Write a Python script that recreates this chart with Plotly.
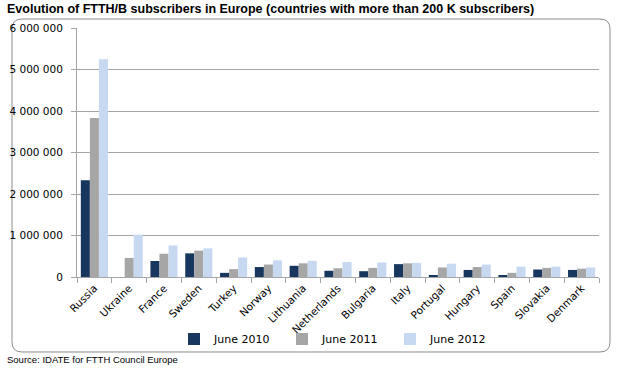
import plotly.graph_objects as go

countries = ["Russia", "Ukraine", "France", "Sweden", "Turkey", "Norway", "Lithuania",
             "Netherlands", "Bulgaria", "Italy", "Portugal", "Hungary", "Spain",
             "Slovakia", "Denmark"]
june_2010 = [2330000, 0, 385000, 570000, 100000, 240000, 270000, 150000, 140000,
             310000, 40000, 170000, 30000, 180000, 170000]
june_2011 = [3830000, 460000, 560000, 635000, 190000, 300000, 330000, 210000, 220000,
             330000, 230000, 240000, 100000, 220000, 200000]
june_2012 = [5250000, 1020000, 760000, 690000, 470000, 400000, 390000, 360000, 350000,
             340000, 320000, 300000, 250000, 250000, 230000]
y_ticks = [0, 1000000, 2000000, 3000000, 4000000, 5000000, 6000000]
y_tick_labels = ["0", "1 000 000", "2 000 000", "3 000 000", "4 000 000", "5 000 000", "6 000 000"]

W, H = 620, 371
L, R, T, B = 77, 21, 28, 94
PW, PH = W - L - R, H - T - B

def px(x):
    return (x - L) / PW

def py(y):
    return (H - B - y) / PH

fig = go.Figure()
for name, vals, col in [("June 2010", june_2010, "#17375E"),
                        ("June 2011", june_2011, "#A6A6A6"),
                        ("June 2012", june_2012, "#C6D9F1")]:
    fig.add_trace(go.Bar(x=countries, y=vals, name=name, marker=dict(color=col, line=dict(width=0))))

# rounded border
x0, y0, x1, y1, r = 12, 19, 610, 352, 10
def p(x, y):
    return f"{px(x):.5f},{py(y):.5f}"
path = (f"M{p(x0 + r, y0)}L{p(x1 - r, y0)}Q{p(x1, y0)} {p(x1, y0 + r)}"
        f"L{p(x1, y1 - r)}Q{p(x1, y1)} {p(x1 - r, y1)}L{p(x0 + r, y1)}"
        f"Q{p(x0, y1)} {p(x0, y1 - r)}L{p(x0, y0 + r)}Q{p(x0, y0)} {p(x0 + r, y0)}Z")
fig.add_shape(type="path", path=path, xref="paper", yref="paper",
              line=dict(color="#8C8C8C", width=1), fillcolor="rgba(0,0,0,0)", layer="below")

fig.add_annotation(text="<b>Evolution of FTTH/B subscribers in Europe (countries with more than 200 K subscribers)</b>",
                   x=px(5), y=py(9), xref="paper", yref="paper", xanchor="left", yanchor="middle",
                   showarrow=False, font=dict(family="Liberation Sans", size=12.5, color="#000000"))
fig.add_annotation(text="Source: IDATE for FTTH Council Europe",
                   x=px(5), y=py(359), xref="paper", yref="paper", xanchor="left", yanchor="middle",
                   showarrow=False, font=dict(family="Liberation Sans", size=9.5, color="#000000"))

fig.update_layout(
    width=W, height=H,
    margin=dict(l=L, r=R, t=T, b=B, pad=0, autoexpand=False),
    paper_bgcolor="white", plot_bgcolor="white",
    barmode="group", bargap=0.22, bargroupgap=0,
    font=dict(family="DejaVu Sans", size=10.5, color="#000000"),
    showlegend=True,
    legend=dict(orientation="h", x=px(336), y=py(339), xanchor="center", yanchor="middle",
                entrywidth=63, entrywidthmode="pixels", font=dict(family="DejaVu Sans", size=11),
                itemwidth=30, bgcolor="rgba(0,0,0,0)", tracegroupgap=0),
)
fig.update_yaxes(range=[0, 6000000], tickvals=y_ticks, ticktext=y_tick_labels,
                 showgrid=True, gridcolor="#A6A6A6", gridwidth=1,
                 showline=True, linecolor="#A6A6A6", ticks="outside", ticklen=5,
                 tickcolor="#A6A6A6", zeroline=False, ticklabelstandoff=6)
fig.update_xaxes(tickangle=-45, showline=True, linecolor="#A6A6A6", ticks="outside",
                 tickson="boundaries", ticklen=5, tickcolor="#A6A6A6", showgrid=False)

fig.write_html("out.html", config={"displayModeBar": False},
               post_script="document.body.style.margin='0';document.body.style.padding='0';")
